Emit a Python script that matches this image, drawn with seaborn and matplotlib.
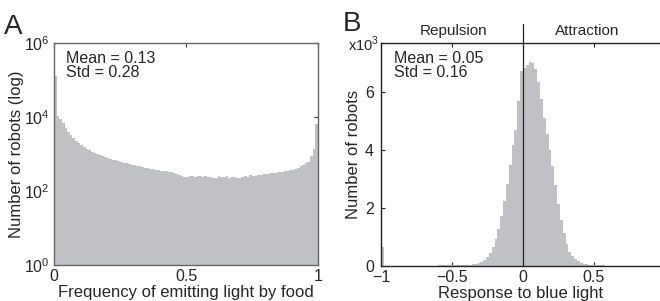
import numpy as np
import pandas as pd
import seaborn as sns
import matplotlib.pyplot as plt

# panel A: 100 bins over [0, 1], counts per bin
freq_counts = [130000, 10500, 9000, 6800, 5200, 4000, 3300, 2700, 2300, 2000,
               1750, 1550, 1400, 1250, 1150, 1050, 980, 920, 860, 820,
               780, 740, 710, 680, 640, 600, 580, 560, 530, 510,
               490, 480, 470, 440, 430, 420, 400, 390, 370, 360,
               350, 340, 345, 320, 330, 300, 290, 270, 250, 245,
               240, 250, 255, 245, 260, 250, 240, 255, 235, 240,
               225, 230, 250, 235, 240, 255, 230, 245, 235, 225,
               230, 240, 250, 245, 270, 260, 255, 275, 265, 280,
               285, 290, 300, 310, 305, 320, 330, 340, 350, 365,
               380, 400, 430, 460, 500, 560, 620, 900, 1400, 6500]
freq_centers = np.arange(100) * 0.01 + 0.005

# panel B: bins of 0.02 from -1 to 0.96, counts in thousands
resp_counts = [0.67] + [0.01] * 19 + [0.02] * 7 + [
    0.03, 0.03, 0.035, 0.04, 0.05, 0.06, 0.08, 0.11, 0.15, 0.22,
    0.32, 0.46, 0.67, 0.94, 1.29, 1.72, 2.23, 2.83, 3.48, 4.17,
    4.7, 5.7, 6.75, 6.85, 6.95, 7.05, 7.02, 6.8, 6.35, 5.75,
    5.1, 4.55, 4.0, 3.45, 2.8, 2.15, 1.6, 1.15, 0.75, 0.5,
    0.36, 0.25, 0.16, 0.11, 0.08, 0.06, 0.04, 0.035, 0.03, 0.025,
    0.02, 0.02, 0.015, 0.015, 0.015, 0.01, 0.01, 0.01, 0.01, 0.01,
    0.01, 0.01, 0.01, 0.01, 0.01, 0.01, 0.01, 0.01, 0.01, 0.01, 0.01]
resp_centers = np.arange(len(resp_counts)) * 0.02 - 0.99

bar_color = "#c0c1c5"

sns.set_style("ticks")
plt.rcParams["font.family"] = ["Liberation Sans", "DejaVu Sans"]
plt.rcParams["font.size"] = 12
plt.rcParams["mathtext.fontset"] = "custom"
plt.rcParams["mathtext.rm"] = "Liberation Sans"

fig = plt.figure(figsize=(6.6, 3.01), dpi=100)
axA = fig.add_axes([54 / 660, 36 / 301, 264 / 660, 222 / 301])
axB = fig.add_axes([381 / 660, 35 / 301, 279 / 660, 223 / 301])

# ---- A ----
df_a = pd.DataFrame({"x": freq_centers, "w": freq_counts})
sns.histplot(data=df_a, x="x", weights="w", binwidth=0.01, binrange=(0, 1),
             ax=axA, element="step", fill=True, color=bar_color, alpha=1,
             linewidth=0)
axA.set_yscale("log")
axA.set_ylim(1, 1e6)
axA.set_xlim(0, 1)
axA.set_yticks([1, 1e2, 1e4, 1e6])
axA.minorticks_off()
axA.set_xticks([0, 0.5, 1])
axA.set_xticklabels(["0", "0.5", "1"])
axA.tick_params(direction="in", top=True, right=True, length=3, width=0.8,
                labelsize=11.5, color="#333333")
axA.tick_params(axis="x", pad=3)
axA.tick_params(axis="y", pad=3)
for s in axA.spines.values():
    s.set_color("#666666")
    s.set_linewidth(1.0)
axA.set_xlabel("Frequency of emitting light by food", fontsize=12,
               labelpad=0.5)
axA.set_ylabel("Number of robots (log)", fontsize=12, labelpad=0)
axA.text(0.045, 0.965, "Mean = 0.13\nStd = 0.28", transform=axA.transAxes,
         ha="left", va="top", fontsize=11.5, linespacing=0.95)
fig.text(4 / 660, 1 - 34 / 301, "A", fontsize=20, ha="left", va="baseline")

# ---- B ----
df_b = pd.DataFrame({"x": resp_centers, "w": resp_counts})
sns.histplot(data=df_b, x="x", weights="w", binwidth=0.02,
             binrange=(-1, 0.96), ax=axB, element="step", fill=True,
             color=bar_color, alpha=1, linewidth=0)
axB.set_xlim(-1, 0.965)
axB.set_ylim(0, 7.7)
axB.set_yticks([0, 2, 4, 6])
axB.set_xticks([-1, -0.5, 0, 0.5])
axB.set_xticklabels(["\u22121", "\u22120.5", "0", "0.5"])
axB.spines["right"].set_visible(False)
for s in ["left", "bottom", "top"]:
    axB.spines[s].set_color("#222222")
    axB.spines[s].set_linewidth(1.0)
axB.tick_params(direction="in", top=True, length=3, width=0.8,
                labelsize=11.5, color="#222222")
axB.tick_params(axis="x", pad=3)
axB.tick_params(axis="y", pad=5)
axB.axvline(0, ymin=0, ymax=1.085, color="#222222", lw=0.9, clip_on=False)
axB.set_xlabel("Response to blue light", fontsize=12, labelpad=0.5)
axB.set_ylabel("Number of robots", fontsize=12, labelpad=3)
axB.text(-0.12, 0.995, "x10$^3$", transform=axB.transAxes, ha="left",
         va="center", fontsize=10.5)
axB.text(-0.49, 1.055, "Repulsion", transform=axB.get_xaxis_transform(),
         ha="center", va="center", fontsize=11)
axB.text(0.45, 1.055, "Attraction", transform=axB.get_xaxis_transform(),
         ha="center", va="center", fontsize=11)
axB.text(0.045, 0.965, "Mean = 0.05\nStd = 0.16", transform=axB.transAxes,
         ha="left", va="top", fontsize=11.5, linespacing=0.95)
fig.text(343 / 660, 1 - 31 / 301, "B", fontsize=20, ha="left", va="baseline")

fig.savefig("out.png", dpi=100)
